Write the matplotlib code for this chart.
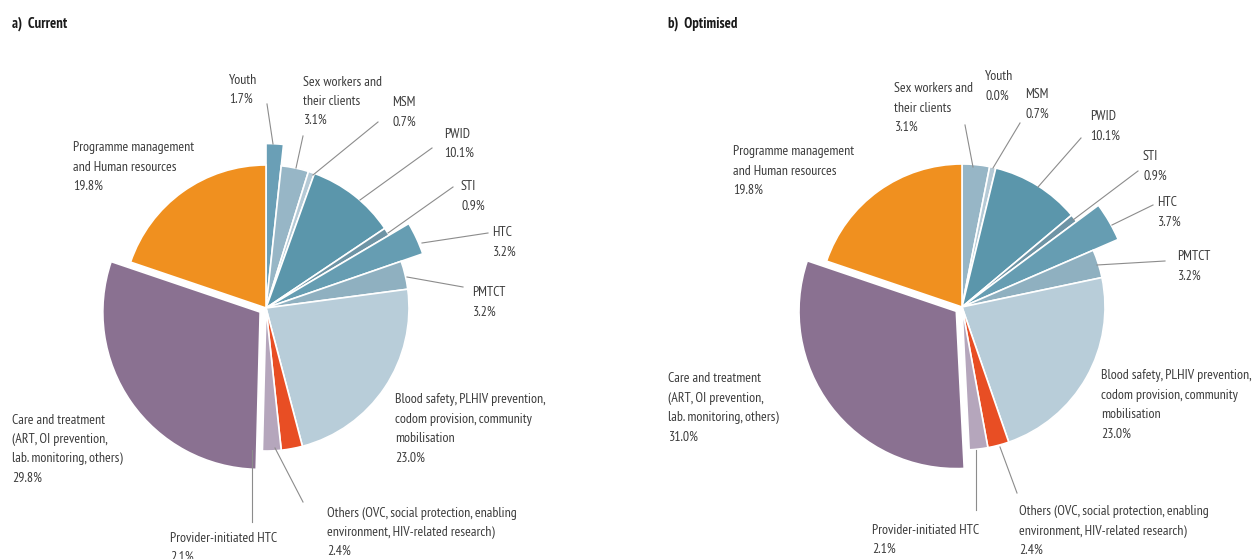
import numpy as np
import matplotlib.pyplot as plt

plt.rcParams['font.family'] = ['PT Sans Narrow', 'DejaVu Sans']

# %% Data
categories = ['Youth', 'Sex workers and\ntheir clients', 'MSM', 'PWID', 'STI', 'HTC', 'PMTCT',
              'Blood safety, PLHIV prevention,\ncodom provision, community\nmobilisation',
              'Others (OVC, social protection, enabling\nenvironment, HIV-related research)',
              'Provider-initiated HTC',
              'Care and treatment\n(ART, OI prevention,\nlab. monitoring, others)',
              'Programme management\nand Human resources']
current = [1.7, 3.1, 0.7, 10.1, 0.9, 3.2, 3.2, 23.0, 2.4, 2.1, 29.8, 19.8]
optimised = [0.0, 3.1, 0.7, 10.1, 0.9, 3.7, 3.2, 23.0, 2.4, 2.1, 31.0, 19.8]
titles = ['a)  Current', 'b)  Optimised']

colors = ['#6a9fb6', '#97b6c6', '#b5cad6', '#5b96ab', '#6e94a5', '#669db2',
          '#8fb0c0', '#b8cdd9', '#e84e24', '#b5a6bc', '#8a7191', '#f0901f']

# %% Layout (pixels in the 1253x559 picture)
W, H = 1253, 559
R = 143.0  # pie radius in pixels
txt_col = '#3c3c3c'
line_col = '#8c8c8c'
fs = 10

panels = [
    dict(values=current, title=titles[0], title_xy=(12, 24), ax_rect=(0, 0, 0.5, 1),
         center=(266, 308),
         radius={0: 1.15, 5: 1.16, 10: 1.10}, explode={10: 0.05},
         labels={0: (229, 80), 1: (303, 82), 2: (392, 103), 3: (444, 134), 4: (461, 187),
                 5: (492, 233), 6: (472, 293), 7: (395, 400), 8: (327, 513), 9: (170, 538),
                 10: (12, 420), 11: (73, 148)},
         leaders={0: (267, 104, 273, 144), 1: (303, 136, 296, 168), 2: (378, 122, 313, 175),
                  3: (432, 148, 360, 200), 4: (453, 187, 388, 233), 5: (488, 233, 422, 243),
                  6: (463, 287, 407, 277), 8: (303, 502, 275, 448), 9: (252, 522, 252, 450)}),
    dict(values=optimised, title=titles[1], title_xy=(668, 24), ax_rect=(0.5, 0, 0.5, 1),
         center=(962, 307),
         radius={5: 1.19, 10: 1.10}, explode={10: 0.05},
         labels={0: (985, 77), 1: (894, 89), 2: (1025, 95), 3: (1090, 117), 4: (1143, 157),
                 5: (1157, 203), 6: (1177, 257), 7: (1101, 376), 8: (1019, 512), 9: (872, 530),
                 10: (668, 379), 11: (733, 152)},
         leaders={1: (965, 125, 973, 167), 2: (1020, 123, 993, 168), 3: (1081, 138, 1038, 187),
                  4: (1138, 171, 1073, 220), 5: (1153, 205, 1112, 225), 6: (1165, 261, 1097, 265),
                  8: (1017, 493, 1000, 447), 9: (976, 510, 976, 450)}),
]

fig = plt.figure(figsize=(W / 100, H / 100), dpi=100)

for p in panels:
    ax = fig.add_axes(p['ax_rect'])
    cx, cy = p['center']
    x0 = p['ax_rect'][0] * W
    x1 = x0 + p['ax_rect'][2] * W

    def px(x, y):
        return (x - cx) / R, (cy - y) / R

    vals = p['values']
    explode = [p['explode'].get(i, 0) for i in range(len(vals))]
    wedges, _ = ax.pie(vals, colors=colors, startangle=90, counterclock=False,
                       explode=explode, normalize=True,
                       wedgeprops=dict(edgecolor='white', linewidth=1.2))
    for i, r in p['radius'].items():
        wedges[i].set_radius(r)

    # labels with values
    for i, (lx, ly) in p['labels'].items():
        lines = categories[i].split('\n') + ['%.1f%%' % vals[i]]
        for k, s in enumerate(lines):
            tx, ty = px(lx, ly + k * 19.3)
            ax.text(tx, ty, s, ha='left', va='center', fontsize=fs,
                    color=txt_col, clip_on=False)

    for i, (ax1, ay1, ax2, ay2) in p['leaders'].items():
        a = px(ax1, ay1)
        b = px(ax2, ay2)
        ax.plot([a[0], b[0]], [a[1], b[1]], color=line_col, lw=0.8)

    ax.set_xlim((x0 - cx) / R, (x1 - cx) / R)
    ax.set_ylim((cy - H) / R, cy / R)
    ax.set_aspect('auto')
    ax.axis('off')

    fig.text(p['title_xy'][0] / W, 1 - p['title_xy'][1] / H, p['title'],
             fontsize=10.5, fontweight='bold', color='#1a1a1a', va='center', ha='left')

fig.savefig('out.png', dpi=100, facecolor='white')
